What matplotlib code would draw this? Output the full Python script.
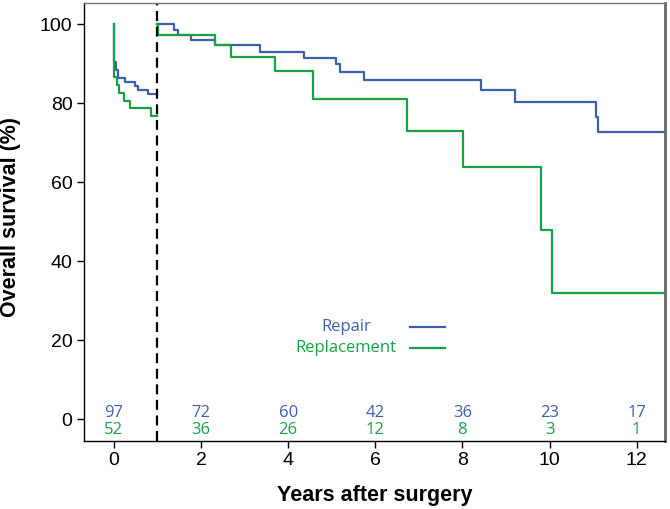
import matplotlib
matplotlib.use("Agg")
import matplotlib.pyplot as plt

# --- data ---
# first year (0..1)
repair_t_early = [0, 0.01, 0.04, 0.10, 0.25, 0.48, 0.56, 0.79, 0.99]
repair_s_early = [100, 90.5, 88.4, 86.3, 85.5, 84.4, 83.4, 82.4, 82.4]
replace_t_early = [0, 0.005, 0.06, 0.12, 0.24, 0.38, 0.85, 0.99]
replace_s_early = [100, 86.7, 84.6, 82.7, 80.7, 78.7, 76.8, 76.8]

# after first year
repair_t_late = [1.0, 1.38, 1.48, 1.78, 2.33, 3.35, 4.36, 5.09, 5.20, 5.75,
                 8.43, 9.21, 11.07, 11.12, 12.65]
repair_s_late = [100, 98.6, 97.4, 96.0, 94.8, 93.1, 91.4, 90.0, 88.0, 85.9,
                 83.4, 80.4, 76.6, 72.8, 72.8]
replace_t_late = [1.0, 1.01, 2.33, 2.69, 3.70, 4.58, 6.73, 8.02, 9.80, 10.05, 12.65]
replace_s_late = [100, 97.3, 94.8, 91.6, 88.2, 81.0, 73.0, 63.8, 47.9, 32.1, 32.1]

# numbers at risk
risk_years = [0, 2, 4, 6, 8, 10, 12]
risk_repair = [97, 72, 60, 42, 36, 23, 17]
risk_replace = [52, 36, 26, 12, 8, 3, 1]

blue = "#3d5fae"
green = "#17a343"

plt.rcParams['font.family'] = ['Liberation Sans', 'DejaVu Sans']
small_font = ['Open Sans', 'DejaVu Sans']

fig = plt.figure(figsize=(6.7, 5.09), dpi=100)
ax = fig.add_axes([0.1258, 0.1342, 0.8667, 0.8593])

for t, s, c in [(repair_t_early, repair_s_early, blue),
                (replace_t_early, replace_s_early, green),
                (repair_t_late, repair_s_late, blue),
                (replace_t_late, replace_s_late, green)]:
    ax.step(t, s, where='post', color=c, lw=1.6)

# landmark line at 1 year
ax.axvline(1.0, color='black', lw=1.6, dashes=(4.5, 2.5))

# legend drawn by hand like the original
ax.text(5.33, 23.4, "Repair", color=blue, ha='center', va='center',
        fontsize=12, family=small_font)
ax.text(5.33, 18.05, "Replacement", color=green, ha='center', va='center',
        fontsize=12, family=small_font)
ax.plot([6.80, 7.60], [23.4, 23.4], color=blue, lw=1.6)
ax.plot([6.80, 7.60], [18.05, 18.05], color=green, lw=1.6)

# numbers at risk
for x, a, b in zip(risk_years, risk_repair, risk_replace):
    ax.text(x, 1.6, str(a), color=blue, ha='center', va='center',
            fontsize=12, family=small_font)
    ax.text(x, -2.7, str(b), color=green, ha='center', va='center',
            fontsize=12, family=small_font)

ax.set_xlim(-0.68, 12.65)
ax.set_ylim(-5.4, 105.3)
ax.set_xticks(risk_years)
ax.set_yticks([0, 20, 40, 60, 80, 100])
ax.tick_params(labelsize=14, length=5, width=1, colors='black')

ax.set_xlabel("Years after surgery", fontsize=15.5, fontweight='bold', labelpad=11)
ax.set_ylabel("Overall survival (%)", fontsize=15.5, fontweight='bold')
ax.yaxis.set_label_coords(-0.1095, 0.511)

for side in ['left', 'bottom']:
    ax.spines[side].set_color('black')
    ax.spines[side].set_linewidth(1)
ax.spines['top'].set_color('#777777')
ax.spines['top'].set_linewidth(1)
ax.spines['right'].set_color('#666666')
ax.spines['right'].set_linewidth(2)

fig.savefig("out.png", dpi=100)
